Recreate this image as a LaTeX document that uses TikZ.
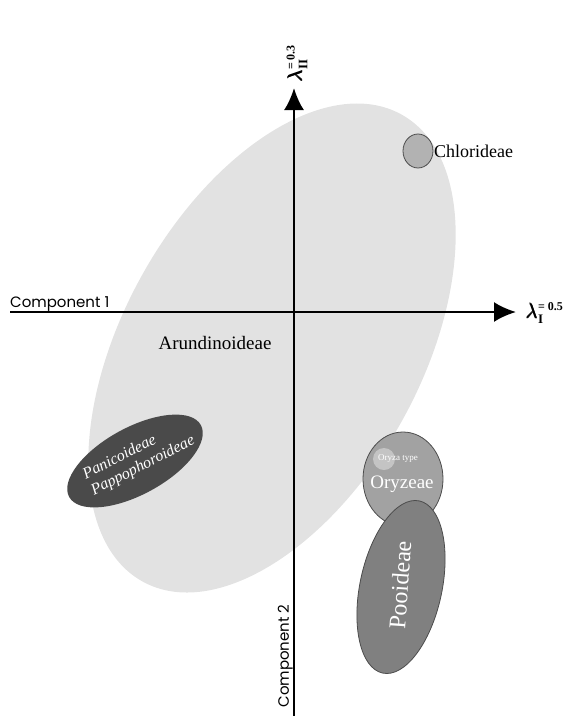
\documentclass[tikz,border=0pt]{standalone}
\usepackage{amsmath}
\usepackage{fontspec}
\setmainfont{Liberation Serif}
\setsansfont{Poppins}
\usetikzlibrary{arrows.meta}

\definecolor{cloud}{HTML}{E2E2E2}
\definecolor{chlor}{HTML}{B2B2B2}
\definecolor{panic}{HTML}{4A4A4A}
\definecolor{oryz}{HTML}{A2A2A2}
\definecolor{oryzt}{HTML}{C4C4C4}
\definecolor{pooid}{HTML}{808080}

\newcommand{\lamlabel}[2]{\fontsize{20}{20}\selectfont
  $\pmb{\lambda}_{\text{\fontsize{13}{13}\selectfont\bfseries #1}}^{\text{\fontsize{12}{12}\selectfont\bfseries = #2}}$}

\tikzset{
  axisline/.style={line width=2.4pt, -{Latex[length=22pt,width=20pt]}},
  complabel/.style={font=\sffamily\fontsize{15}{17}\selectfont, inner sep=1pt},
  grouplabel/.style={font=\fontsize{18}{20}\selectfont, inner sep=0pt},
  innerlabel/.style={text=white, inner sep=0pt},
  blob/.style={draw=black!70, line width=0.8pt},
}

\begin{document}
\begin{tikzpicture}[x=1pt,y=-1pt]
  \useasboundingbox (0,0) rectangle (588,716);

  % big cloud
  \fill[cloud, rotate around={61:(272,348)}] (272,348) ellipse [x radius=267, y radius=149];

  % axes
  \coordinate (xstart) at (10,312);
  \coordinate (xend) at (516,312);
  \coordinate (ystart) at (294,716);
  \coordinate (yend) at (294,88);
  \draw[axisline] (xstart) -- (xend);
  \draw[axisline] (ystart) -- (yend);

  \node[complabel, anchor=south west] (comp1) at (9,313) {Component 1};
  \node[complabel, rotate=90, anchor=south] (comp2) at (294,656) {Component 2};

  \node[anchor=west, inner sep=0pt] (lamI) at (526,313) {\lamlabel{I}{0.5}};
  \node[rotate=90, anchor=west, inner sep=0pt] (lamII) at (297,82) {\lamlabel{II}{0.3}};

  % groups
  \fill[chlor, blob] (418,151) ellipse [x radius=15, y radius=17];
  \node[grouplabel, anchor=west] (chl) at (434,151) {Chlorideae};

  \node[grouplabel, font=\fontsize{19}{21}\selectfont] (aru) at (215,343) {Arundinoideae};

  \fill[panic, rotate around={28.6:(135,461)}] (135,461) ellipse [x radius=75, y radius=33.5];
  \node[innerlabel, rotate=27, align=left, font=\itshape\fontsize{16}{18}\selectfont] (pan) at (139,458)
    {Panicoideae\\Pappophoroideae};

  \fill[oryz, blob] (403,479) ellipse [x radius=40, y radius=47];
  \fill[oryzt] (384,459) circle [radius=11];
  \node[innerlabel, font=\fontsize{9}{9}\selectfont] (oty) at (398,458) {Oryza type};
  \node[innerlabel, font=\fontsize{19}{19}\selectfont] (ory) at (402,484) {Oryzeae};

  \fill[pooid, blob, rotate around={-12:(401,587)}] (401,587) ellipse [x radius=41, y radius=88];
  \node[innerlabel, rotate=86, font=\fontsize{24}{24}\selectfont] (poo) at (400,585) {Pooideae};
\end{tikzpicture}
\end{document}
